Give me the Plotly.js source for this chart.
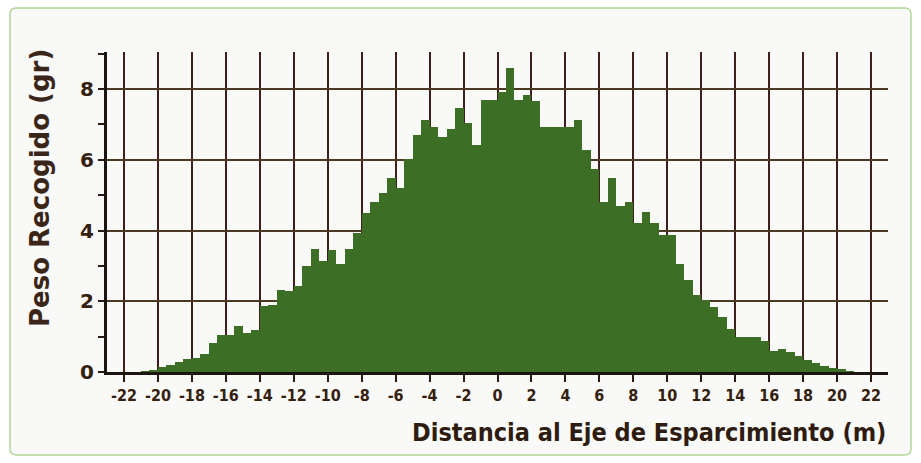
<!DOCTYPE html>
<html>
<head>
<meta charset="utf-8">
<script src="https://cdn.plot.ly/plotly-3.0.1.min.js"></script>
<style>
  html, body { margin: 0; padding: 0; background: #ffffff; }
  #chart { width: 921px; height: 463px; }
</style>
</head>
<body>
<div id="chart"></div>
<script>
// Histogram of collected weight (g) per 0.5 m bin, from -21 m to +21 m
var binStart = -21;
var binWidth = 0.5;
var pesoRecogido = [
  0.02, 0.07, 0.145, 0.21, 0.29, 0.36, 0.41, 0.51,      // -21 .. -17
  0.82, 1.06, 1.04, 1.29, 1.10, 1.20,                    // -17 .. -14
  1.88, 1.90, 2.33, 2.30, 2.44, 3.01,                    // -14 .. -11
  3.48, 3.14, 3.46, 3.06, 3.48, 3.93,                    // -11 .. -8
  4.49, 4.80, 5.05, 5.50, 5.19, 6.02,                    // -8 .. -5
  6.70, 7.13, 6.94, 6.66, 6.87, 7.46,                    // -5 .. -2
  7.03, 6.42, 7.70, 7.70,                                // -2 .. 0
  7.93, 8.59, 7.70, 7.83, 7.66, 6.92,                    // 0 .. 3
  6.92, 6.92, 6.92, 7.13, 6.27, 5.75,                    // 3 .. 6
  4.81, 5.49, 4.70, 4.81, 4.22, 4.53,                    // 6 .. 9
  4.20, 3.87, 3.87, 3.05, 2.60, 2.17,                    // 9 .. 12
  2.05, 1.84, 1.56, 1.23, 1.00, 1.00,                    // 12 .. 15
  1.00, 0.89, 0.60, 0.65, 0.56, 0.46,                    // 15 .. 18
  0.35, 0.25, 0.17, 0.12, 0.08, 0.03                     // 18 .. 21
];
var xTickVals = [-22, -20, -18, -16, -14, -12, -10, -8, -6, -4, -2, 0, 2, 4, 6, 8, 10, 12, 14, 16, 18, 20, 22];
var xTickText = ["-22", "-20", "-18", "-16", "-14", "-12", "-10", "-8", "-6", "-4", "-2", "0", "2", "4", "6", "8", "10", "12", "14", "16", "18", "20", "22"];
var yTickVals = [0, 2, 4, 6, 8];
var xTitle = "Distancia al Eje de Esparcimiento (m)";
var yTitle = "Peso Recogido (gr)";

var distancias = pesoRecogido.map(function (v, i) { return binStart + binWidth * (i + 0.5); });

var narrow = "'DejaVu Sans Condensed', 'Liberation Sans Narrow', 'Liberation Sans', sans-serif";
var wide = "'DejaVu Sans', 'Liberation Sans', sans-serif";
var textColor = "#34200f";

// rounded outer frame (paper coordinates)
var fx0 = -0.1242, fx1 = 1.0294, fy0 = -0.259, fy1 = 1.1375, rx = 0.0077, ry = 0.0188;
var framePath =
  "M" + (fx0 + rx) + "," + fy0 +
  " L" + (fx1 - rx) + "," + fy0 +
  " Q" + fx1 + "," + fy0 + " " + fx1 + "," + (fy0 + ry) +
  " L" + fx1 + "," + (fy1 - ry) +
  " Q" + fx1 + "," + fy1 + " " + (fx1 - rx) + "," + fy1 +
  " L" + (fx0 + rx) + "," + fy1 +
  " Q" + fx0 + "," + fy1 + " " + fx0 + "," + (fy1 - ry) +
  " L" + fx0 + "," + (fy0 + ry) +
  " Q" + fx0 + "," + fy0 + " " + (fx0 + rx) + "," + fy0 + " Z";

var trace = {
  type: "bar",
  x: distancias,
  y: pesoRecogido,
  width: binWidth,
  marker: { color: "#3d6e26", line: { width: 0 } },
  hoverinfo: "x+y"
};

var layout = {
  width: 921,
  height: 463,
  margin: { l: 107, r: 33, t: 52, b: 91, pad: 0 },
  paper_bgcolor: "#ffffff",
  plot_bgcolor: "rgba(0,0,0,0)",
  showlegend: false,
  bargap: 0,
  xaxis: {
    range: [-23, 23],
    tickmode: "array",
    tickvals: xTickVals,
    ticktext: xTickText,
    showgrid: true,
    gridcolor: "#3f1f1b",
    gridwidth: 2,
    zeroline: false,
    showline: true,
    linecolor: "#1c140e",
    linewidth: 3,
    ticks: "outside",
    ticklen: 7,
    tickwidth: 2,
    tickcolor: "#2a1a10",
    tickfont: { family: narrow, size: 16, color: textColor, weight: "bold" },
    fixedrange: true
  },
  yaxis: {
    range: [0, 9.05],
    tickmode: "array",
    tickvals: yTickVals,
    showgrid: true,
    gridcolor: "#4a3820",
    gridwidth: 2,
    zeroline: false,
    showline: true,
    linecolor: "#1c140e",
    linewidth: 3,
    ticks: "outside",
    ticklen: 6,
    tickwidth: 2,
    tickcolor: "#2a1a10",
    minor: { dtick: 1, tick0: 0, ticks: "outside", ticklen: 6, tickwidth: 2, tickcolor: "#2a1a10", showgrid: false },
    tickfont: { family: wide, size: 20, color: textColor, weight: "bold" },
    fixedrange: true
  },
  shapes: [{
    type: "path",
    xref: "paper", yref: "paper",
    path: framePath,
    fillcolor: "#f9f9f7",
    line: { color: "#b3d59c", width: 1.5 },
    layer: "below"
  }],
  annotations: [
    {
      text: xTitle,
      xref: "paper", yref: "paper",
      x: 1, y: -0.19,
      xanchor: "right", yanchor: "middle",
      showarrow: false,
      font: { family: narrow, size: 25, color: "#2e1c10", weight: "bold" }
    },
    {
      text: yTitle,
      xref: "paper", yref: "paper",
      x: -0.0858, y: 0.575,
      xanchor: "center", yanchor: "middle",
      textangle: -90,
      showarrow: false,
      font: { family: wide, size: 26, color: "#3a2618", weight: "bold" }
    }
  ]
};

Plotly.newPlot("chart", [trace], layout, { displayModeBar: false, staticPlot: true });
</script>
</body>
</html>
